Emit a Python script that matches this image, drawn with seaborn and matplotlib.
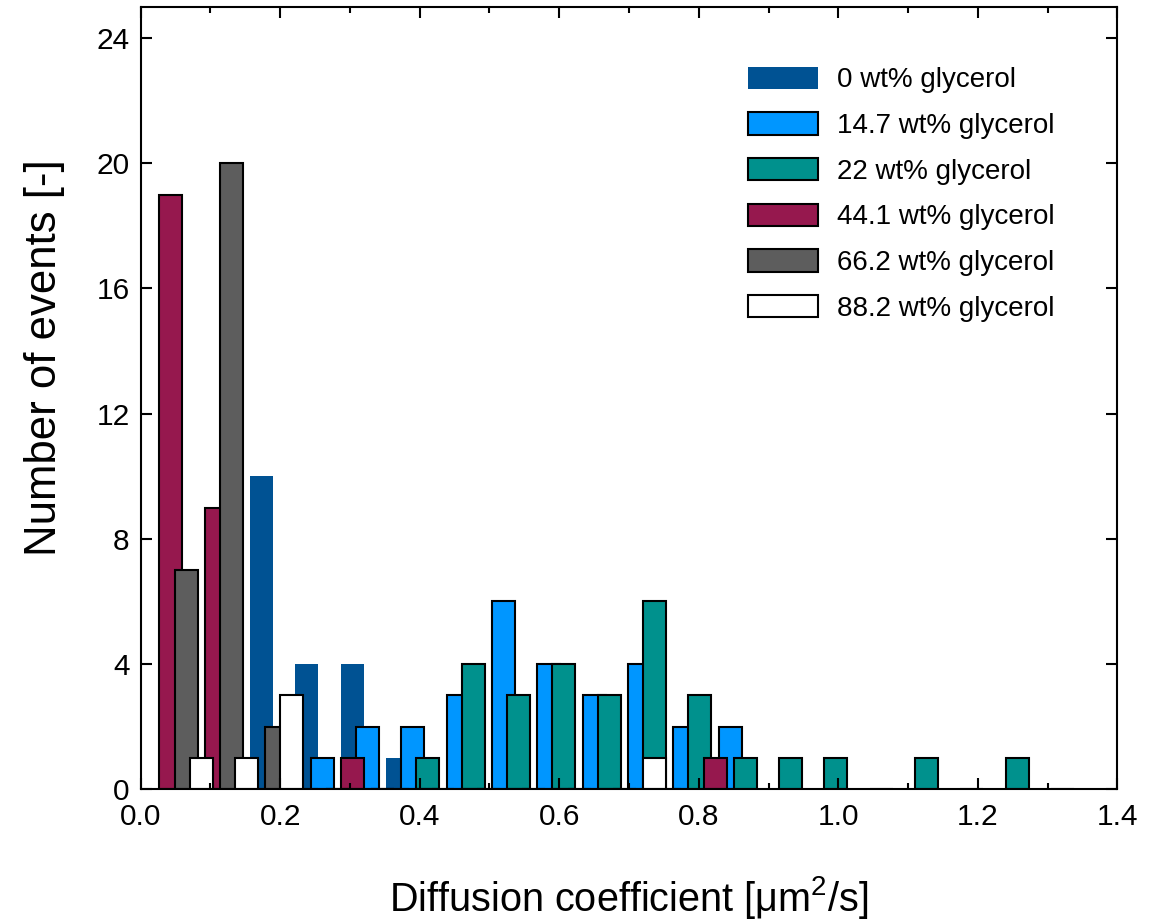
import numpy as np
import pandas as pd
import seaborn as sns
import matplotlib.pyplot as plt
from matplotlib.ticker import MultipleLocator

sns.set_style("ticks")
plt.rcParams['font.family'] = ['Liberation Sans', 'DejaVu Sans']
plt.rcParams['mathtext.default'] = 'regular'
for k in ['text.color', 'axes.labelcolor', 'xtick.color', 'ytick.color', 'axes.edgecolor']:
    plt.rcParams[k] = 'black'

# bin centres of the histogram [um^2/s]
bin_centers = [0.065, 0.130, 0.195, 0.260, 0.325, 0.390, 0.455, 0.520, 0.585, 0.650,
               0.715, 0.780, 0.845, 0.910, 0.975, 1.040, 1.105, 1.170, 1.235, 1.300]

# counts per bin for each glycerol concentration
labels = ["0 wt% glycerol", "14.7 wt% glycerol", "22 wt% glycerol",
          "44.1 wt% glycerol", "66.2 wt% glycerol", "88.2 wt% glycerol"]
counts_0 = [0, 0, 10, 4, 4, 1]
counts_147 = [0, 0, 0, 1, 2, 2, 3, 6, 4, 3, 4, 2, 2]
counts_22 = [0, 0, 0, 0, 0, 1, 4, 3, 4, 3, 6, 3, 1, 1, 1, 0, 1, 0, 1, 0]
counts_441 = [19, 9, 0, 0, 1, 0, 0, 0, 0, 0, 0, 0, 1]
counts_662 = [7, 20, 2]
counts_882 = [1, 1, 3, 0, 0, 0, 0, 0, 0, 0, 1]

colors = ["#005293", "#0096ff", "#00918d", "#96184e", "#5d5d5d", "white"]
series = [counts_0, counts_147, counts_22, counts_441, counts_662, counts_882]
shift = [-1, 0, 1, -1, 0, 1]  # dodge within a bin, in thirds of the bin width

fig = plt.figure(figsize=(11.63, 9.21), dpi=100)
ax = fig.add_axes([0.121, 0.143, 0.8397, 0.8497])

step = bin_centers[1] - bin_centers[0]
for cnt, col, lab, s in zip(series, colors, labels, shift):
    df = pd.DataFrame({"D": np.array(bin_centers[:len(cnt)]) + s * step / 3,
                       "n": cnt})
    edge = "none" if col == "#005293" else "black"
    sns.barplot(data=df, x="D", y="n", native_scale=True, width=0.507,
                color=col, saturation=1, edgecolor=edge, linewidth=1.5,
                errorbar=None, label=lab, ax=ax)

ax.set_xlim(0, 1.4)
ax.set_ylim(0, 25)
ax.set_yticks(np.arange(0, 25, 4))
ax.xaxis.set_major_locator(MultipleLocator(0.2))
ax.xaxis.set_minor_locator(MultipleLocator(0.1))
ax.xaxis.set_major_formatter(lambda v, p: f"{v:.1f}")
ax.set_axisbelow(False)
ax.tick_params(which="both", direction="in", top=True, right=True,
               width=1.5, labelsize=21.5)
ax.tick_params(axis="x", pad=10)
ax.tick_params(axis="y", pad=8)
ax.tick_params(which="major", length=8)
ax.tick_params(which="minor", length=4)
for sp in ax.spines.values():
    sp.set_linewidth(1.5)

ax.set_xlabel(r"Diffusion coefficient [μm$^2$/s]", fontsize=28.5, labelpad=31)
ax.set_ylabel("Number of events [-]", fontsize=31.5)
ax.yaxis.set_label_coords(-0.078, 0.552)

ax.legend(loc="upper left", bbox_to_anchor=(0.6215, 0.9236), borderaxespad=0,
          borderpad=0, frameon=False, fontsize=20, handlelength=2.52,
          handleheight=0.86, handletextpad=0.68, labelspacing=0.68)

fig.savefig("out.png", dpi=100)
